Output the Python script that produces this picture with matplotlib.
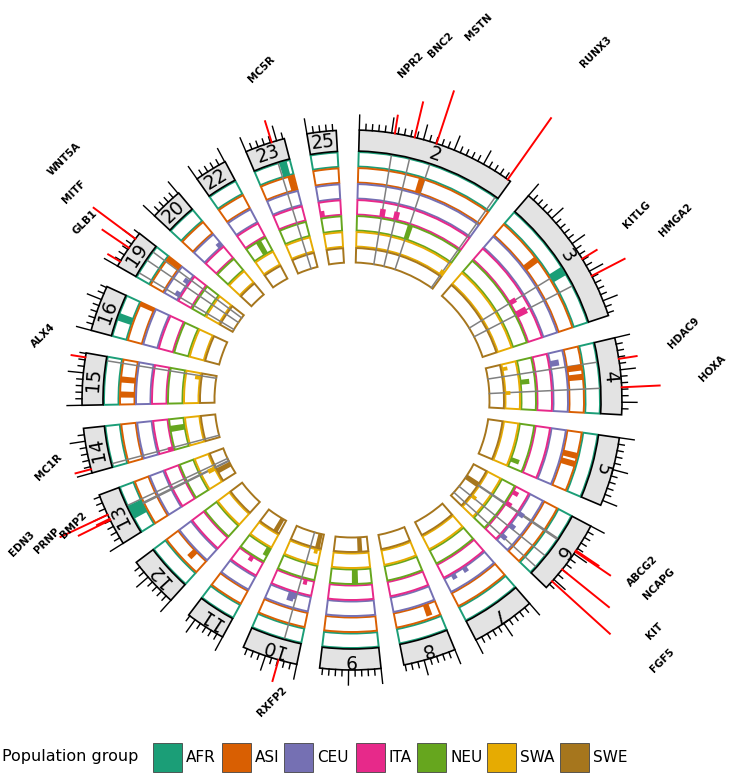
import numpy as np
import matplotlib
matplotlib.use("Agg")
import matplotlib.pyplot as plt
from matplotlib.patches import Wedge, Rectangle

# chromosomes shown (sheep), lengths in Mb as drawn
chroms = [2, 3, 4, 5, 6, 7, 8, 9, 10, 11, 12, 13, 14, 15, 16, 19, 20, 22, 23, 25]
chrom_mb = [249.0, 224.3, 119.3, 107.9, 117.0, 100.1, 82.0, 94.7, 86.5, 62.2,
            79.1, 83.1, 70.0, 80.9, 71.7, 60.5, 51.2, 50.8, 62.3, 45.4]

pops = ["AFR", "ASI", "CEU", "ITA", "NEU", "SWA", "SWE"]
pop_colors = ["#1B9E77", "#D95F02", "#7570B3", "#E7298A", "#66A61E", "#E6AB02", "#A6761D"]

# candidate genes: chromosome, position (Mb), score (drawn as red line length)
gene_names = ["NPR2", "BNC2", "MSTN", "RUNX3", "KITLG", "HMGA2", "HDAC9", "HOXA",
              "ABCG2", "NCAPG", "KIT", "FGF5", "RXFP2", "PRNP", "BMP2", "EDN3",
              "MC1R", "ALX4", "GLB1", "MITF", "WNT5A", "MC5R"]
gene_chrom = [2, 2, 2, 2, 3, 3, 4, 4, 6, 6, 6, 6, 10, 13, 13, 13, 14, 15, 19, 19, 19, 23]
gene_mb = [55, 86, 121, 244, 128, 158, 33, 77, 44, 46, 80, 104, 29, 41, 43, 50,
           6, 74, 8, 33, 50, 42]
gene_score = [18, 36, 55, 75, 17, 37, 18, 38, 27, 42, 60, 78, 22, 35, 14, 52,
              16, 14, 14, 32, 52, 22]

# selection signals: chromosome, position (Mb), population, height (0-1), window (Mb)
sig_chrom = [2, 2, 2, 2, 2, 3, 3, 3, 3, 4, 4, 4, 4, 4, 4, 5, 5, 5,
             6, 6, 6, 6, 6, 6, 6, 7, 7, 8, 9, 9, 10, 10, 10, 10, 10,
             11, 11, 11, 12, 13, 13, 13, 14, 14, 15, 15, 15, 16, 16,
             19, 19, 19, 20, 22, 23, 23, 25]
sig_mb = [116, 56, 87, 123, 243, 86, 129, 128, 158, 22, 38, 55, 53, 13, 78, 43, 58, 90,
          44, 78, 14, 42, 46, 76, 103, 53, 80, 19, 38, 23, 10, 12, 19, 34, 40,
          12, 5, 28, 28, 37, 31, 40, 4, 48, 45, 18, 68, 34, 69,
          58, 43, 12, 46, 32, 50, 56, 4]
sig_pop = ["ASI", "ITA", "ITA", "NEU", "SWA", "ASI", "AFR", "ITA", "ITA",
           "CEU", "ASI", "ASI", "NEU", "SWA", "SWA", "ASI", "ASI", "NEU",
           "SWE", "SWA", "ITA", "ITA", "CEU", "CEU", "CEU", "CEU", "CEU", "ASI",
           "NEU", "SWE", "SWE", "SWA", "ITA", "CEU", "CEU",
           "SWE", "NEU", "ITA", "ASI", "AFR", "SWE", "SWA", "ITA", "NEU",
           "ASI", "ASI", "SWA", "AFR", "ASI", "ASI", "CEU", "CEU", "CEU",
           "NEU", "AFR", "ASI", "ITA"]
sig_height = [1.0, 0.55, 0.55, 1.0, 0.35, 1.0, 1.0, 0.45, 0.75, 0.6, 1.0, 1.0, 0.6,
              0.35, 0.35, 1.0, 1.0, 0.6, 1.0, 0.35, 0.4, 0.4, 0.4, 0.4, 0.4, 0.35,
              0.35, 0.8, 1.0, 1.0, 1.0, 0.3, 0.35, 0.4, 0.6, 1.0, 0.6, 0.35, 0.6,
              1.0, 1.0, 0.5, 0.35, 1.0, 1.0, 1.0, 0.35, 1.0, 1.0, 1.0, 0.35, 0.35,
              0.35, 1.0, 1.0, 1.0, 0.4]
sig_width = [11, 12, 12, 12, 10, 12, 16, 11, 15, 12, 11, 11, 12, 10, 10, 11, 11, 11,
             15, 10, 10, 10, 10, 10, 10, 10, 10, 11, 14, 13, 13, 10, 9, 9, 13,
             13, 11, 10, 11, 24, 15, 12, 10, 14, 11, 11, 10, 13, 9,
             14, 10, 10, 10, 13, 13, 11, 10]

# layout (pixels, image centre)
CX, CY = 352, 376
R_OUT = 270
GRAY_W = 21
PITCH = 16
TRACK_H = 14.5
DEG_PER_MB = 0.138
ROTATE = -0.9


def sector_starts():
    total = sum(chrom_mb) * DEG_PER_MB
    gap = (360 - total) / len(chroms)
    starts, a = {}, gap / 2 + ROTATE
    for c, L in zip(chroms, chrom_mb):
        starts[c] = a
        a += L * DEG_PER_MB + gap
    return starts


def xy(r, th):
    t = np.radians(th)
    return CX + r * np.sin(t), CY + r * np.cos(t)


def arc(ax, r_out, r_in, th1, th2, **kw):
    ax.add_patch(Wedge((CX, CY), r_out, 90 - th2, 90 - th1, width=r_out - r_in, **kw))


def main():
    fig = plt.figure(figsize=(7.4, 7.76), dpi=100)
    ax = fig.add_axes([0, 0, 1, 1])
    ax.set_xlim(0, 740)
    ax.set_ylim(0, 776)
    ax.axis("off")

    starts = sector_starts()
    lens = dict(zip(chroms, chrom_mb))
    ang = lambda c, mb: starts[c] + mb * DEG_PER_MB
    r_gray_in = R_OUT - GRAY_W
    track_out = [r_gray_in - 1 - i * PITCH for i in range(len(pops))]
    r_inner = track_out[-1] - TRACK_H

    for c in chroms:
        th1, th2 = starts[c], ang(c, lens[c])
        # population tracks
        for ro, col in zip(track_out, pop_colors):
            arc(ax, ro, ro - TRACK_H, th1, th2, fc="white", ec=col, lw=1.4, zorder=2)
        # label track
        arc(ax, R_OUT, r_gray_in, th1, th2, fc="#E3E3E3", ec="black", lw=1.2, zorder=3)
        mid = (th1 + th2) / 2
        x, y = xy(R_OUT - GRAY_W / 2, mid)
        ax.text(x, y, str(c), rotation=-mid, rotation_mode="anchor", ha="center",
                va="center", fontsize=13.5, zorder=4)
        # ticks every 10 Mb, long every 50 Mb
        for mb in np.arange(0, lens[c], 10):
            t = ang(c, mb)
            ln = 15 if mb % 50 == 0 else 6
            x0, y0 = xy(R_OUT, t)
            x1, y1 = xy(R_OUT + ln, t)
            ax.plot([x0, x1], [y0, y1], color="black", lw=1.0, zorder=3)

    # gene positions through the tracks, red score lines and labels
    for name, c, mb, s in zip(gene_names, gene_chrom, gene_mb, gene_score):
        t = ang(c, mb)
        x0, y0 = xy(r_inner, t)
        x1, y1 = xy(r_gray_in - 1, t)
        ax.plot([x0, x1], [y0, y1], color="#808080", lw=1.1, zorder=2.5)
        x0, y0 = xy(R_OUT, t)
        x1, y1 = xy(R_OUT + s, t)
        ax.plot([x0, x1], [y0, y1], color="red", lw=1.4, zorder=3.5)
        lx, ly = xy(R_OUT + 30 + 1.4 * s, t)
        ax.text(lx, ly, name, rotation=45, rotation_mode="anchor", ha="left",
                va="bottom", fontsize=7.4, fontweight="bold", zorder=4)

    # selection signals
    for c, mb, p, h, w in zip(sig_chrom, sig_mb, sig_pop, sig_height, sig_width):
        i = pops.index(p)
        r0 = track_out[i] - TRACK_H
        lo = max(mb - w / 2, 0)
        hi = min(mb + w / 2, lens[c])
        arc(ax, r0 + h * TRACK_H, r0, ang(c, lo), ang(c, hi),
            fc=pop_colors[i], ec="none", zorder=2.7)

    # legend
    ax.text(2, 776 - 757, "Population group", ha="left", va="center", fontsize=11.5)
    box_x = [153, 222, 284, 356, 417, 487, 560]
    for bx, p, col in zip(box_x, pops, pop_colors):
        ax.add_patch(Rectangle((bx, 776 - 772), 29, 29, fc=col, ec="#444444", lw=0.6))
        ax.text(bx + 33, 776 - 757, p, ha="left", va="center", fontsize=11)

    fig.savefig("out.png", dpi=100)
    plt.close(fig)


if __name__ == "__main__":
    main()
